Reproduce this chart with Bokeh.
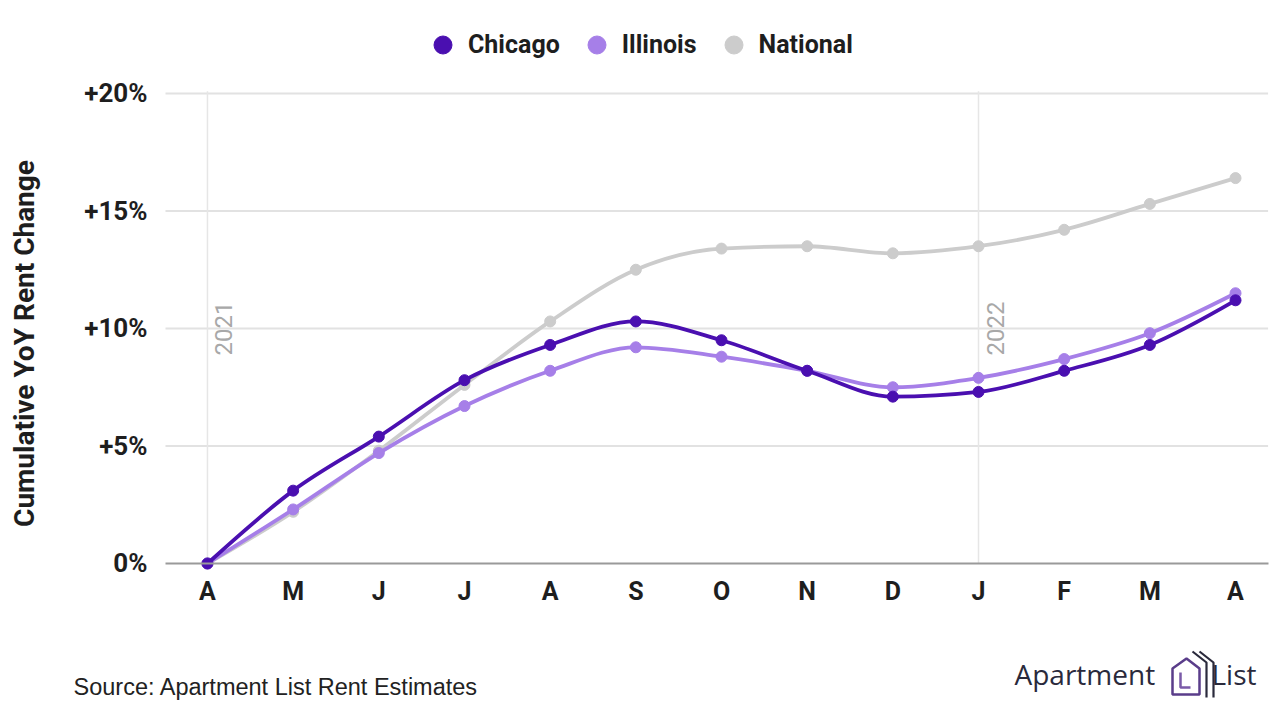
import math
from bokeh.plotting import figure
from bokeh.models import (Legend, LegendItem, Label, FixedTicker,
                          ColumnDataSource, PolyAnnotation)
from bokeh.embed import file_html
from bokeh.resources import INLINE

# ---------------- data ----------------
months = ["A", "M", "J", "J", "A", "S", "O", "N", "D", "J", "F", "M", "A"]
chicago = [0.0, 3.1, 5.4, 7.8, 9.3, 10.3, 9.5, 8.2, 7.1, 7.3, 8.2, 9.3, 11.2]
illinois = [0.0, 2.3, 4.7, 6.7, 8.2, 9.2, 8.8, 8.2, 7.5, 7.9, 8.7, 9.8, 11.5]
national = [0.0, 2.2, 4.8, 7.6, 10.3, 12.5, 13.4, 13.5, 13.2, 13.5, 14.2, 15.3, 16.4]
y_ticks = [0, 5, 10, 15, 20]
y_tick_labels = ["0%", "+5%", "+10%", "+15%", "+20%"]
year_idx = [0, 9]
year_labels = ["2021", "2022"]
series_names = ["Chicago", "Illinois", "National"]
series_colors = ["#4a0fb0", "#a67fe8", "#cccccc"]

FONT = "Roboto"
DARK = "#1e1e1e"
W, H = 1280, 720

# plotting area extent (in data units) inside a full-canvas frame
X_LO, X_HI = -0.49, 12.38
Y_TOP = 20.4

p = figure(width=W, height=H, x_range=(-2.416, 12.525), y_range=(-6.681, 23.957),
           output_backend="svg", toolbar_location=None, min_border=0)
p.title.visible = False
p.outline_line_color = None
p.background_fill_color = "white"
p.border_fill_color = "white"
p.xgrid.visible = False
p.ygrid.visible = False

# axes placed at fixed data locations
p.yaxis.fixed_location = X_LO
p.yaxis.bounds = (-1.5, 20.2)
p.yaxis.ticker = FixedTicker(ticks=y_ticks)
p.yaxis.major_label_overrides = {t: l for t, l in zip(y_ticks, y_tick_labels)}
p.yaxis.axis_line_color = None
p.yaxis.major_tick_line_color = None
p.yaxis.minor_tick_line_color = None
p.yaxis.major_label_text_font = FONT
p.yaxis.major_label_text_font_style = "bold"
p.yaxis.major_label_text_font_size = "26px"
p.yaxis.major_label_text_color = DARK
p.yaxis.major_label_standoff = 12
p.yaxis.axis_label = "Cumulative YoY Rent Change"
p.yaxis.axis_label_text_font = FONT
p.yaxis.axis_label_text_font_style = "bold"
p.yaxis.axis_label_text_font_size = "28px"
p.yaxis.axis_label_text_color = DARK
p.yaxis.axis_label_standoff = 40

p.xaxis.fixed_location = 0
p.xaxis.bounds = (X_LO, X_HI)
p.xaxis.ticker = FixedTicker(ticks=list(range(len(months))))
p.xaxis.major_label_overrides = {i: m for i, m in enumerate(months)}
p.xaxis.axis_line_color = "#9a9a9a"
p.xaxis.axis_line_width = 2
p.xaxis.major_tick_line_color = None
p.xaxis.minor_tick_line_color = None
p.xaxis.major_label_text_font = FONT
p.xaxis.major_label_text_font_style = "bold"
p.xaxis.major_label_text_font_size = "25px"
p.xaxis.major_label_text_color = DARK
p.xaxis.major_label_standoff = 8

# horizontal grid lines at the y ticks (limited to the plotting area)
grid_y = [t for t in y_ticks if t > 0]
p.segment(x0=[X_LO] * len(grid_y), x1=[X_HI] * len(grid_y), y0=grid_y, y1=grid_y,
          line_color="#e2e2e2", line_width=2)

# year marker lines
p.segment(x0=year_idx, x1=year_idx, y0=[0] * len(year_idx), y1=[Y_TOP - 0.3] * len(year_idx),
          line_color="#e6e6e6", line_width=1.5)
for xi, lab in zip(year_idx, year_labels):
    p.add_layout(Label(x=xi, y=10, text=lab, angle=math.pi / 2,
                       x_offset=8, text_align="center", text_baseline="top",
                       text_font=FONT, text_font_size="24px",
                       text_color="#a8a8a8"))


# smooth (monotone-x) curves drawn with bezier glyphs
def sign(v):
    return (v > 0) - (v < 0)


def monotone_slopes(y):
    n = len(y)
    s = [y[i + 1] - y[i] for i in range(n - 1)]
    m = [0.0] * n
    for i in range(1, n - 1):
        s0, s1 = s[i - 1], s[i]
        pm = (s0 + s1) / 2
        m[i] = (sign(s0) + sign(s1)) * min(abs(s0), abs(s1), 0.5 * abs(pm))
    m[0] = (3 * s[0] - m[1]) / 2
    m[-1] = (3 * s[-1] - m[-2]) / 2
    return m


def curve_source(y):
    x = list(range(len(y)))
    m = monotone_slopes(y)
    d = dict(x0=[], y0=[], x1=[], y1=[], cx0=[], cy0=[], cx1=[], cy1=[])
    for i in range(len(y) - 1):
        h = x[i + 1] - x[i]
        d["x0"].append(x[i]); d["y0"].append(y[i])
        d["x1"].append(x[i + 1]); d["y1"].append(y[i + 1])
        d["cx0"].append(x[i] + h / 3); d["cy0"].append(y[i] + m[i] * h / 3)
        d["cx1"].append(x[i + 1] - h / 3); d["cy1"].append(y[i + 1] - m[i + 1] * h / 3)
    return ColumnDataSource(d)


all_series = [chicago, illinois, national]
marker_renderers = {}
for idx in [2, 1, 0]:
    ys = all_series[idx]
    col = series_colors[idx]
    p.bezier(x0="x0", y0="y0", x1="x1", y1="y1", cx0="cx0", cy0="cy0",
             cx1="cx1", cy1="cy1", source=curve_source(ys),
             line_color=col, line_width=3.8)
    marker_renderers[idx] = p.scatter(x=list(range(len(ys))), y=ys, size=11,
                                      marker="circle", fill_color=col, line_color=col)

# legend: marker size in the legend follows the glyph box (0.4 x 45 px)
items = [LegendItem(label=name, renderers=[marker_renderers[i]])
         for i, name in enumerate(series_names)]
legend = Legend(items=items, orientation="horizontal", location=(420, 653),
                glyph_width=45, glyph_height=45, label_standoff=3, spacing=14,
                padding=0, margin=0, border_line_alpha=0,
                background_fill_alpha=0, label_text_font=FONT,
                label_text_font_style="bold", label_text_font_size="25px",
                label_text_color=DARK, label_text_baseline="middle")
p.add_layout(legend, "center")

# ---------------- footer (source + logo), screen units from bottom-left ----------------
p.add_layout(Label(x=73, y=H - 686, x_units="screen", y_units="screen",
                   text="Source: Apartment List Rent Estimates",
                   text_font="Liberation Sans", text_font_size="23.5px",
                   text_color="#222222", text_baseline="middle"))
p.add_layout(Label(x=1014, y=H - 673, x_units="screen", y_units="screen",
                   text="Apartment", text_font="Open Sans", text_font_size="28px",
                   text_color="#2a2a3c", text_baseline="middle"))
p.add_layout(Label(x=1211, y=H - 673, x_units="screen", y_units="screen",
                   text="List", text_font="Open Sans", text_font_size="28px",
                   text_color="#2a2a3c", text_baseline="middle"))


def logo_part(pts, color, width):
    p.add_layout(PolyAnnotation(xs=[a for a, b in pts], ys=[H - b for a, b in pts],
                                xs_units="screen", ys_units="screen",
                                fill_alpha=0, line_alpha=1.0,
                                line_color=color, line_width=width))


logo_part([(1172, 694), (1172, 668), (1186, 658), (1199, 668), (1199, 694)], "#5a3d8a", 2.5)
logo_part([(1180, 672), (1180, 687), (1190, 687), (1180, 687)], "#7a5aa8", 2.5)
for dx in (0, 7):
    logo_part([(1192 + dx, 651), (1206 + dx, 662), (1206 + dx, 697), (1206 + dx, 662)],
              "#2a2a3c", 2.2)

open("out.html", "w").write(file_html(p, INLINE))
